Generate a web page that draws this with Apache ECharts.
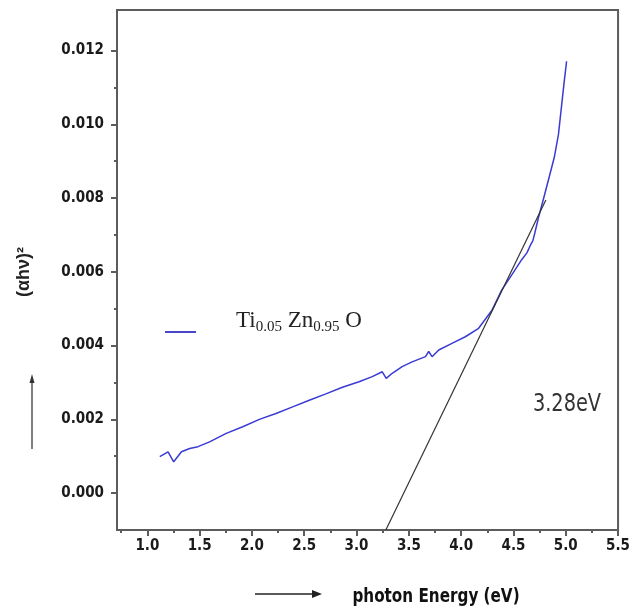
<!DOCTYPE html>
<html><head><meta charset="utf-8">
<script src="https://cdn.jsdelivr.net/npm/echarts@6/dist/echarts.min.js"></script>
<style>html,body{margin:0;padding:0;background:#fff}#c{width:633px;height:613px}</style>
</head><body><div id="c"></div><script>
// photon energy (eV)
const energy = [1.119,1.198,1.252,1.326,1.405,1.484,1.595,1.754,1.912,2.071,2.230,2.389,2.548,2.707,2.865,3.024,3.150,3.246,3.284,3.341,3.436,3.531,3.659,3.690,3.722,3.786,3.912,4.040,4.167,4.293,4.389,4.484,4.579,4.630,4.665,4.685,4.705,4.740,4.790,4.840,4.890,4.930,4.960,4.985,5.008];
// (alpha h nu)^2
const absorb = [0.00099,0.00112,0.00085,0.00112,0.00121,0.00126,0.00139,0.00162,0.00180,0.00200,0.00216,0.00234,0.00252,0.00269,0.00287,0.00302,0.00316,0.00329,0.00311,0.00325,0.00343,0.00356,0.00370,0.00384,0.00370,0.00388,0.00406,0.00424,0.00447,0.00495,0.00551,0.00592,0.00633,0.00652,0.00674,0.00684,0.00706,0.00748,0.00801,0.00855,0.00910,0.00972,0.01050,0.01115,0.01171];
// extrapolated tangent line
const tangentX = [3.28, 4.81];
const tangentY = [-0.001, 0.00795];
const xTickLabels = [1.0,1.5,2.0,2.5,3.0,3.5,4.0,4.5,5.0,5.5];
const xMinorTicks = [0.75,1.25,1.75,2.25,2.75,3.25,3.75,4.25,4.75,5.25];
const yTickLabels = [0.000,0.002,0.004,0.006,0.008,0.010,0.012];
const yMinorTicks = [0.001,0.003,0.005,0.007,0.009,0.011];
const seriesName = 'Ti0.05 Zn0.95 O';
const bandGapText = '3.28eV';

const XMIN = 0.71, XMAX = 5.5, YMIN = -0.001, YMAX = 0.0131;
const axisFont = {fontFamily:'"Liberation Sans Narrow","DejaVu Sans Condensed",Arial,sans-serif', fontWeight:'bold', fontSize:15, color:'#1a1a1a'};
const lineCol = '#5c5c5c';

function measure(text, font){
  const c = document.createElement('canvas').getContext('2d');
  c.font = font; return c.measureText(text).width;
}
const serif = '"Liberation Serif","Times New Roman",serif';
const bigF = 23, subF = 15;
const legendParts = [['Ti',bigF,0],['0.05',subF,3],[' Zn',bigF,0],['0.95',subF,3],[' O',bigF,0]];
let lx = 236; const lbase = 332;
const legendTexts = legendParts.map(p => {
  const el = {type:'text', x: lx, y: lbase + p[2], style:{text:p[0], font: p[1]+'px '+serif, fill:'#222', textVerticalAlign:'bottom'}};
  lx += measure(p[0], p[1]+'px '+serif);
  return el;
});

const chart = echarts.init(document.getElementById('c'));
chart.setOption({
  animation:false,
  backgroundColor:'#fff',
  grid:{left:117, top:10, right:11, bottom:83, show:true, borderColor:lineCol, borderWidth:2, backgroundColor:'transparent'},
  xAxis:[
    {type:'value', min:XMIN, max:XMAX, position:'bottom',
     axisLine:{show:true, onZero:false, lineStyle:{color:lineCol, width:2}},
     axisTick:{show:true, inside:false, length:6, customValues:xTickLabels, lineStyle:{color:lineCol, width:2}},
     axisLabel:Object.assign({customValues:xTickLabels, margin:9, formatter:v=>v.toFixed(1)}, axisFont),
     splitLine:{show:false}},
    {type:'value', min:XMIN, max:XMAX, position:'bottom',
     axisLine:{show:false, onZero:false}, axisLabel:{show:false}, splitLine:{show:false},
     axisTick:{show:true, inside:false, length:3, customValues:xMinorTicks, lineStyle:{color:lineCol, width:2}}}
  ],
  yAxis:[
    {type:'value', min:YMIN, max:YMAX, position:'left',
     axisLine:{show:true, onZero:false, lineStyle:{color:lineCol, width:2}},
     axisTick:{show:true, inside:false, length:6, customValues:yTickLabels, lineStyle:{color:lineCol, width:2}},
     axisLabel:Object.assign({customValues:yTickLabels, margin:13, formatter:v=>v.toFixed(3)}, axisFont),
     splitLine:{show:false}},
    {type:'value', min:YMIN, max:YMAX, position:'left',
     axisLine:{show:false, onZero:false}, axisLabel:{show:false}, splitLine:{show:false},
     axisTick:{show:true, inside:false, length:3, customValues:yMinorTicks, lineStyle:{color:lineCol, width:2}}}
  ],
  series:[
    {name:seriesName, type:'line', xAxisIndex:0, yAxisIndex:0, showSymbol:false, symbol:'none',
     data: energy.map((x,i)=>[x, absorb[i]]), lineStyle:{color:'#3a3ad4', width:1.5}, z:3},
    {name:'tangent', type:'line', xAxisIndex:0, yAxisIndex:0, showSymbol:false, symbol:'none',
     data: tangentX.map((x,i)=>[x, tangentY[i]]), lineStyle:{color:'#333', width:1.2}, z:4}
  ],
  graphic:[
    {type:'line', shape:{x1:165, y1:332, x2:196, y2:332}, style:{stroke:'#4a46c8', lineWidth:2}},
    ...legendTexts,
    {type:'text', x:567, y:404, scaleX:0.86, style:{text:bandGapText, font:'25px "Liberation Sans Narrow","DejaVu Sans Condensed",sans-serif', fill:'#333', textAlign:'center', textVerticalAlign:'middle'}},
    {type:'text', x:436, y:597, scaleX:0.89, style:{text:'photon Energy (eV)', font:'bold 19px "Liberation Sans Narrow","DejaVu Sans Condensed",sans-serif', fill:'#111', textAlign:'center', textVerticalAlign:'middle'}},
    {type:'line', shape:{x1:255, y1:594, x2:314, y2:594}, style:{stroke:'#222', lineWidth:1.5}},
    {type:'polygon', shape:{points:[[322,594],[312,590],[312,598]]}, style:{fill:'#222'}},
    {type:'text', x:24, y:272, rotation:Math.PI/2, style:{text:'(αhν)²', font:'bold 18px "Liberation Sans","DejaVu Sans",sans-serif', fill:'#222', textAlign:'center', textVerticalAlign:'middle'}},
    {type:'line', shape:{x1:32, y1:449, x2:32, y2:382}, style:{stroke:'#555', lineWidth:1.5}},
    {type:'polygon', shape:{points:[[32,374],[29.5,383],[34.5,383]]}, style:{fill:'#333'}}
  ]
});
</script></body></html>
